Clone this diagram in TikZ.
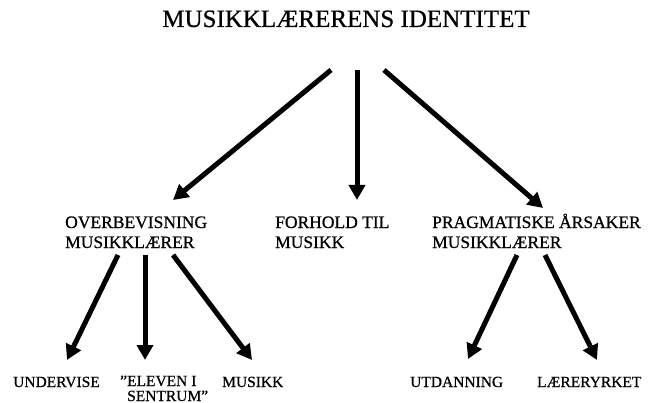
\documentclass[tikz,border=0pt]{standalone}
\usepackage{fontspec}
\setmainfont{Liberation Serif}[FakeBold=0.7]
\usetikzlibrary{arrows.meta}
\begin{document}
\begin{tikzpicture}[x=1pt,y=-1pt,
  titlestyle/.style={inner sep=0pt, anchor=base, font=\fontsize{25}{28}\selectfont},
  lbl/.style={inner sep=0pt, anchor=base west, align=left, font=\fontsize{17.5}{20}\selectfont},
  leaf/.style={inner sep=0pt, anchor=base west, align=left, font=\fontsize{15.5}{15}\selectfont},
  arr/.style={line width=5pt, -{Triangle[length=15pt,width=16pt]}}]
\useasboundingbox (0,0) rectangle (650,403);

% heading
\node[titlestyle] (title) at (346,27) {MUSIKKLÆRERENS IDENTITET};

% middle level (base anchor sits on the last line)
\node[lbl] (overb) at (65,248) {OVERBEVISNING\\MUSIKKLÆRER};
\node[lbl] (forhold) at (275,248) {FORHOLD TIL\\MUSIKK};
\node[lbl] (pragm) at (432,248) {PRAGMATISKE ÅRSAKER\\MUSIKKLÆRER};

% bottom level
\node[leaf] (undervise) at (13,387) {UNDERVISE};
\node[leaf] (eleven) at (120,401) {”ELEVEN I\\\hspace*{7pt}SENTRUM”};
\node[leaf] (musikk) at (222,387) {MUSIKK};
\node[leaf] (utdanning) at (410,387) {UTDANNING};
\node[leaf] (laerer) at (537,387) {LÆRERYRKET};

% arrow ends
\coordinate (t1) at (331,70);
\coordinate (t2) at (357,70);
\coordinate (t3) at (384,70);
\coordinate (m1) at (173,200);
\coordinate (m2) at (357,200);
\coordinate (m3) at (543,208);
\coordinate (o1) at (118,255);
\coordinate (o2) at (145,255);
\coordinate (o3) at (173,255);
\coordinate (u1) at (67,360);
\coordinate (u2) at (145,360);
\coordinate (u3) at (252,360);
\coordinate (p1) at (517,255);
\coordinate (p2) at (545,255);
\coordinate (v1) at (468,359);
\coordinate (v2) at (597,360);

\draw[arr] (t1) -- (m1);
\draw[arr] (t2) -- (m2);
\draw[arr] (t3) -- (m3);
\draw[arr] (o1) -- (u1);
\draw[arr] (o2) -- (u2);
\draw[arr] (o3) -- (u3);
\draw[arr] (p1) -- (v1);
\draw[arr] (p2) -- (v2);
\end{tikzpicture}
\end{document}
